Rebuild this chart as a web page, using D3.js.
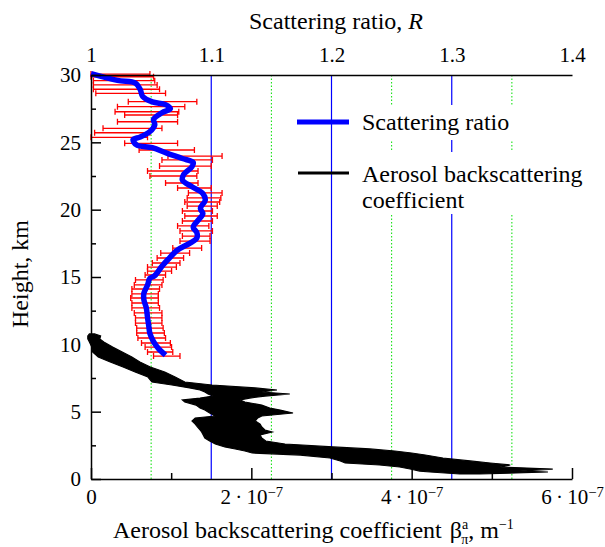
<!DOCTYPE html>
<html><head><meta charset="utf-8">
<script src="https://cdn.jsdelivr.net/npm/d3@7"></script>
<style>html,body{margin:0;padding:0;background:#fff}svg{display:block}</style>
</head><body>
<svg id="c" width="605" height="547"></svg>
<script>
// ---- data ----
const ratioH = [30.1,29.6,29.4,28.9,28.4,28.0,27.8,27.5,27.2,26.7,26.3,25.8,25.4,25.2,24.8,24.6,24.2,23.8,23.5,23.2,22.6,22.2,21.7,21.2,20.7,20.1,19.7,19.2,18.7,18.3,17.9,17.5,17.0,16.3,15.8,15.1,14.9,14.4,13.8,13.3,12.7,12.0,11.4,10.8,10.2,9.7,9.2];
const ratioR = [1.000,1.022,1.037,1.041,1.043,1.051,1.062,1.066,1.059,1.052,1.053,1.049,1.041,1.035,1.038,1.051,1.063,1.076,1.085,1.084,1.077,1.076,1.084,1.093,1.095,1.091,1.093,1.089,1.085,1.088,1.088,1.082,1.072,1.064,1.059,1.053,1.049,1.047,1.044,1.044,1.046,1.047,1.048,1.049,1.052,1.056,1.062];

const errH  = [30.07,29.87,29.58,29.26,28.94,28.64,28.02,27.65,27.27,27.03,26.53,26.04,25.71,25.37,24.93,24.43,23.98,23.69,23.24,22.87,22.50,21.98,21.61,21.24,20.87,20.57,20.27,19.90,19.53,19.16,18.79,18.42,18.04,17.67,17.15,16.78,16.41,16.04,15.74,15.44,15.15,14.78,14.41,14.11,13.74,13.44,13.07,12.70,12.33,11.96,11.58,11.21,10.84,10.47,10.10,9.80,9.43,9.13];
const errLo = [1.000,1.000,1.002,1.002,1.002,1.004,1.031,1.022,1.020,1.028,1.022,1.010,1.003,1.000,1.028,1.040,1.064,1.059,1.057,1.047,1.049,1.062,1.072,1.081,1.080,1.078,1.080,1.076,1.078,1.076,1.072,1.074,1.076,1.074,1.068,1.058,1.055,1.051,1.047,1.047,1.045,1.037,1.036,1.034,1.034,1.033,1.034,1.034,1.036,1.037,1.037,1.038,1.038,1.039,1.042,1.045,1.047,1.052];
const errHi = [1.049,1.052,1.053,1.055,1.057,1.062,1.088,1.078,1.073,1.072,1.072,1.059,1.049,1.047,1.072,1.086,1.109,1.101,1.100,1.089,1.088,1.089,1.100,1.109,1.108,1.107,1.105,1.101,1.105,1.101,1.098,1.101,1.099,1.099,1.092,1.082,1.077,1.074,1.071,1.067,1.062,1.060,1.059,1.057,1.056,1.056,1.056,1.057,1.059,1.059,1.059,1.060,1.061,1.062,1.066,1.067,1.068,1.074];

// aerosol backscattering coefficient envelope, units of 1e-7 m^-1
const bscH   = [10.77,10.62,10.40,10.17,9.80,9.43,9.06,8.69,8.32,7.95,7.57,7.20,6.98,6.76,6.61,6.46,6.31,6.16,6.01,5.87,5.72,5.49,5.27,5.12,4.90,4.68,4.53,4.31,4.08,3.86,3.64,3.49,3.27,3.04,2.82,2.60,2.38,2.23,2.08,1.93,1.78,1.56,1.34,1.19,1.04,0.89,0.74,0.59,0.52,0.37];
const bscMin = [-0.02,-0.04,-0.04,-0.02,0.01,0.02,0.09,0.24,0.40,0.55,0.71,0.76,1.01,1.23,1.36,1.42,1.46,1.52,1.36,1.14,1.17,1.31,1.36,1.42,1.48,1.55,1.30,1.26,1.30,1.33,1.36,1.38,1.40,1.42,1.48,1.55,1.67,1.80,1.92,2.01,2.61,2.98,3.11,3.17,3.60,3.85,3.98,4.10,4.23,4.60];
const bscMax = [0.05,0.12,0.11,0.16,0.27,0.39,0.51,0.61,0.74,0.92,1.05,1.17,1.51,2.05,2.32,2.13,2.48,2.17,1.98,1.86,1.92,2.13,2.23,2.36,2.52,2.13,2.08,2.05,2.11,2.13,2.17,2.26,2.11,2.13,2.18,2.42,3.02,3.48,3.79,4.00,4.17,4.39,4.73,4.98,5.23,5.10,5.76,5.35,5.70,4.85];

const heightTicks = [0,5,10,15,20,25,30];
const heightMinor = [2.5,7.5,12.5,17.5,22.5,27.5];
const ratioTicks = [1,1.1,1.2,1.3,1.4];
const ratioTickLabels = ["1","1.1","1.2","1.3","1.4"];
const ratioBlue = [1.1,1.2,1.3];
const ratioGreen = [1.05,1.15,1.25,1.35];
const betaTicks = [0,2e-7,4e-7,6e-7];
const betaTickMant = ["0","2","4","6"];
const betaMinor = [1e-7,3e-7,5e-7];

// ---- layout ----
const L = 91, R = 572, T = 75, B = 479;
const FONT = "'Liberation Serif', 'Times New Roman', serif";
const FS = 21;   // tick labels
const FT = 24;   // titles and legend

const svg = d3.select("#c");
const y = d3.scaleLinear().domain([0,30]).range([B,T]);
const xR = d3.scaleLinear().domain([1,1.4]).range([L,R]);
const xB = d3.scaleLinear().domain([0,6e-7]).range([L,R]);

// gridlines
svg.append("g").selectAll("line").data(ratioGreen).join("line")
  .attr("x1",d=>xR(d)).attr("x2",d=>xR(d)).attr("y1",T).attr("y2",B)
  .attr("stroke","#00e000").attr("stroke-width",1).attr("stroke-dasharray","1.5,2");
svg.append("g").selectAll("line").data(ratioBlue).join("line")
  .attr("x1",d=>xR(d)).attr("x2",d=>xR(d)).attr("y1",T).attr("y2",B)
  .attr("stroke","#0000ff").attr("stroke-width",1.2);

// aerosol backscatter envelope
const bsc = bscH.map((h,i)=>({h, lo:bscMin[i]*1e-7, hi:bscMax[i]*1e-7}));
svg.append("path").datum(bsc)
  .attr("d", d3.area().y(d=>y(d.h)).x0(d=>xB(d.lo)).x1(d=>xB(d.hi)).curve(d3.curveLinear))
  .attr("fill","#000").attr("stroke","#000").attr("stroke-width",1.2).attr("stroke-linejoin","miter");

// error bars
const err = errH.map((h,i)=>({h, lo:errLo[i], hi:errHi[i]}));
const eg = svg.append("g").attr("stroke","#ff0000").attr("stroke-width",1.3).attr("fill","none");
eg.selectAll("path").data(err).join("path")
  .attr("d", d=>{const yy=y(d.h), a=xR(d.lo), b=xR(d.hi);
    return `M${a},${yy}H${b}M${a},${yy-3}V${yy+3}M${b},${yy-3}V${yy+3}`;});

// scattering ratio line
const ratio = ratioH.map((h,i)=>({h, r:ratioR[i]}));
svg.append("path").datum(ratio)
  .attr("d", d3.line().x(d=>xR(d.r)).y(d=>y(d.h)).curve(d3.curveCatmullRom.alpha(0.5)))
  .attr("fill","none").attr("stroke","#0000ff").attr("stroke-width",5.5).attr("stroke-linejoin","round");

// axes
const txt = sel => sel.selectAll("text").attr("font-family",FONT).attr("font-size",FS).attr("fill","#000");
// left
const gl = svg.append("g").attr("transform",`translate(${L},0)`);
gl.call(d3.axisLeft(y).tickValues(heightTicks).tickSizeInner(-10).tickSizeOuter(0).tickPadding(10).tickFormat(d3.format("d")));
gl.call(txt);
gl.selectAll("line").attr("stroke","#000").attr("stroke-width",1.5);
gl.select(".domain").attr("stroke","#000").attr("stroke-width",1.5);
const glm = svg.append("g").attr("transform",`translate(${L},0)`);
glm.call(d3.axisLeft(y).tickValues(heightMinor).tickSizeInner(-5).tickSizeOuter(0).tickFormat(""));
glm.select(".domain").remove();
glm.selectAll("line").attr("stroke","#000").attr("stroke-width",1.5);

// bottom
const gb = svg.append("g").attr("transform",`translate(0,${B})`);
gb.call(d3.axisBottom(xB).tickValues(betaTicks).tickSizeInner(-11).tickSizeOuter(0).tickPadding(10).tickFormat((d,i)=>betaTickMant[i]));
gb.call(txt);
gb.selectAll("line").attr("stroke","#000").attr("stroke-width",1.5);
gb.select(".domain").attr("stroke","#000").attr("stroke-width",1.5);
gb.selectAll(".tick text").each(function(d,i){
  if(i===0) return;
  const t = d3.select(this); t.text(null);
  t.append("tspan").text(betaTickMant[i]+"\u2009\u00B7\u200910");
  t.append("tspan").attr("dy","-0.45em").attr("font-size",FS*0.7).text("\u22127");
});
const gbm = svg.append("g").attr("transform",`translate(0,${B})`);
gbm.call(d3.axisBottom(xB).tickValues(betaMinor).tickSizeInner(-6).tickSizeOuter(0).tickFormat(""));
gbm.select(".domain").remove();
gbm.selectAll("line").attr("stroke","#000").attr("stroke-width",1.5);

// top
const gt = svg.append("g").attr("transform",`translate(0,${T})`);
gt.call(d3.axisTop(xR).tickValues(ratioTicks).tickSize(0).tickPadding(13).tickFormat((d,i)=>ratioTickLabels[i]));
gt.call(txt);
gt.select(".domain").attr("stroke","#000").attr("stroke-width",1.5);

// titles
svg.append("text").attr("x",336).attr("y",29).attr("text-anchor","middle")
  .attr("font-family",FONT).attr("font-size",FT)
  .call(t=>{t.append("tspan").text("Scattering ratio, ");t.append("tspan").attr("font-style","italic").text("R");});
svg.append("text").attr("transform","translate(28,274) rotate(-90)").attr("text-anchor","middle")
  .attr("font-family",FONT).attr("font-size",FT).text("Height, km");
svg.append("text").attr("x",113).attr("y",538).attr("text-anchor","start")
  .attr("font-family",FONT).attr("font-size",FT)
  .call(t=>{
    t.append("tspan").text("Aerosol backscattering coefficient");
    t.append("tspan").attr("dx",8).text("\u03B2");
    t.append("tspan").attr("dy",-9).attr("font-size",14).text("a");
    t.append("tspan").attr("dx",-7).attr("dy",15).attr("font-size",14).text("\u03C0");
    t.append("tspan").attr("dy",-6).text(",  m");
    t.append("tspan").attr("dy",-9).attr("font-size",14).text("\u22121");
  });

// legend
const lg = svg.append("g");
lg.append("rect").attr("x",357).attr("y",105).attr("width",240).attr("height",35).attr("fill","#fff");
lg.append("rect").attr("x",357).attr("y",152).attr("width",240).attr("height",62).attr("fill","#fff");
lg.append("line").attr("x1",297).attr("x2",349).attr("y1",122).attr("y2",122).attr("stroke","#0000ff").attr("stroke-width",5);
lg.append("line").attr("x1",298).attr("x2",349).attr("y1",173).attr("y2",173).attr("stroke","#000").attr("stroke-width",3);
const lt = [["Scattering ratio",130],["Aerosol backscattering",182],["coefficient",208]];
lg.selectAll("text").data(lt).join("text").attr("x",362).attr("y",d=>d[1])
  .attr("font-family",FONT).attr("font-size",FT).text(d=>d[0]);
</script>
</body></html>
